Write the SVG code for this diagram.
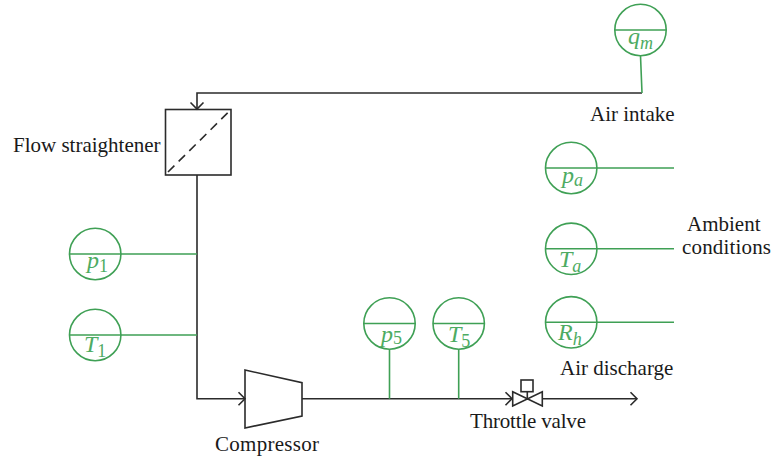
<svg xmlns="http://www.w3.org/2000/svg" width="772" height="460" viewBox="0 0 772 460">
<style>
.k{fill:none;stroke:#2b2b2b;stroke-width:1.6}
.g{fill:none;stroke:#3fa055;stroke-width:1.6}
.t{font-family:"Liberation Serif",serif;font-size:21px;fill:#1a1a1a}
.m{font-family:"Liberation Serif",serif;font-size:24px;font-style:italic;fill:#4dab62}
.s{font-size:18px}
.n{font-style:normal}
</style>
<defs><marker id="a" markerWidth="16" markerHeight="16" refX="14" refY="8" orient="auto" markerUnits="userSpaceOnUse"><path d="M7.500 1.500L14 8L7.500 14.500" fill="none" stroke="#2b2b2b" stroke-width="1.600"/></marker></defs>
<g id="connectors">
<path class="k" d="M642 93H197V109" marker-end="url(#a)"/>
<path class="k" d="M197 175V398.700H245" marker-end="url(#a)"/>
<path class="k" d="M302 398.700H512" marker-end="url(#a)"/>
<path class="k" d="M542.300 398.700H637" marker-end="url(#a)"/>
<path class="g" d="M640.500 55.700L642 93M597 168H674M597 248.800H674M597 322.300H674M121 254H197M121 335H197M389.500 349.300V398.700M458.700 349.300V398.700"/>
</g>
<g id="flow-straightener"><rect class="k" x="165.500" y="109.500" width="65.500" height="65.500"/><path class="k" d="M168 172L231 109.500" stroke-dasharray="9 6"/><text class="t" x="13" y="152">Flow straightener</text></g>
<g id="compressor"><path class="k" d="M245 370L302 382.700V416L245 428Z"/><text class="t" x="215" y="451" textLength="104">Compressor</text></g>
<g id="throttle-valve"><path class="k" d="M512.700 391.700L542.300 406V391.700L512.700 406Z"/><path class="k" d="M527.300 398.700V391.700"/><rect class="k" x="521" y="380" width="12" height="11.700"/><text class="t" x="470" y="428" textLength="116">Throttle valve</text></g>
<g id="q-m"><circle class="g" cx="640.500" cy="30" r="25.700"/><path class="g" d="M614.800 30H666.200"/><text class="m" x="628" y="44">q<tspan class="s" dy="5">m</tspan></text></g>
<g id="p-a"><circle class="g" cx="571.200" cy="168" r="25.700"/><path class="g" d="M545.500 168H597"/><text class="m" x="562" y="183">p<tspan class="s" dy="3">a</tspan></text></g>
<g id="t-a"><circle class="g" cx="571.200" cy="248.800" r="25.700"/><path class="g" d="M545.500 248.800H597"/><text class="m" x="559" y="266.500">T<tspan class="s" dy="5">a</tspan></text></g>
<g id="r-h"><circle class="g" cx="571.200" cy="322.300" r="25.700"/><path class="g" d="M545.500 322.300H597"/><text class="m" x="558" y="340">R<tspan class="s" dy="5">h</tspan></text></g>
<g id="p-1"><circle class="g" cx="95.200" cy="254" r="25.700"/><path class="g" d="M69.500 254H121"/><text class="m" x="87" y="268">p<tspan class="s n" dy="4">1</tspan></text></g>
<g id="t-1"><circle class="g" cx="95.200" cy="335" r="25.700"/><path class="g" d="M69.500 335H121"/><text class="m" x="84" y="351.500">T<tspan class="s n" dy="5">1</tspan></text></g>
<g id="p-5"><circle class="g" cx="389.500" cy="323.500" r="25.700"/><path class="g" d="M363.800 323.500H415.200"/><text class="m" x="381" y="342">p<tspan class="s n" dy="2">5</tspan></text></g>
<g id="t-5"><circle class="g" cx="458.700" cy="323.500" r="25.700"/><path class="g" d="M433 323.500H484.400"/><text class="m" x="448" y="341.500">T<tspan class="s n" dy="5">5</tspan></text></g>
<g id="labels"><text class="t" x="590" y="121">Air intake</text><text class="t" x="687" y="231">Ambient</text><text class="t" x="682" y="254" textLength="89">conditions</text><text class="t" x="560" y="375">Air discharge</text></g>
</svg>
